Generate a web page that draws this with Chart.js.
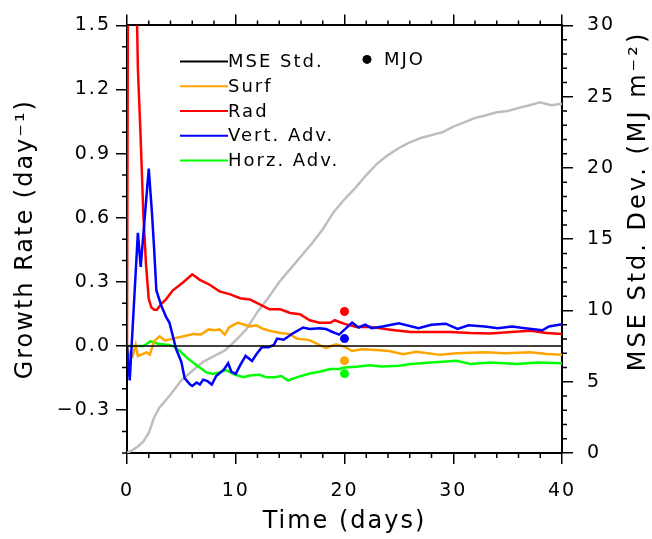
<!DOCTYPE html>
<html>
<head>
<meta charset="utf-8">
<title>MSE growth rate</title>
<script src="https://cdn.jsdelivr.net/npm/chart.js@4.4.1/dist/chart.umd.min.js"></script>
<style>
  html, body { margin: 0; padding: 0; background: #fff; }
  #wrap { width: 652px; height: 539px; }
</style>
</head>
<body>
<div id="wrap"><canvas id="myChart" width="652" height="539"></canvas></div>
<script>
// ---- data (days / values) ----
const stdDays = [0, 0.5, 1, 1.5, 2, 2.5, 3, 4, 5, 6, 7, 8, 9, 10, 11, 12, 13, 14, 15, 16, 17, 18, 19, 20,
    21, 22, 23, 24, 25, 26, 27, 28, 29, 30, 31, 32, 33, 34, 35, 36, 37, 38, 39, 40];
const stdVals = [0, 0.2, 0.46, 0.8, 1.4, 2.5, 3.2, 4.1, 5.1, 5.75, 6.4, 6.8, 7.2, 7.9, 8.7, 9.9, 10.9, 12.0, 12.9, 13.8,
    14.7, 15.7, 16.9, 17.8, 18.6, 19.5, 20.3, 20.9, 21.4, 21.8, 22.1, 22.3, 22.5, 22.9, 23.2, 23.5, 23.7, 23.9,
    24.0, 24.2, 24.4, 24.6, 24.4, 24.5];

const surfDays = [0, 0.25, 0.5, 0.8, 1.0, 1.3, 1.8, 2.1, 2.5, 3.0, 3.5, 4.2, 5.2, 6.1, 6.8, 7.5, 8.1, 8.5, 9.0, 9.4,
    10.2, 10.8, 11.3, 11.9, 12.5, 13.1, 14.1, 15.0, 15.6, 16.8, 17.7, 18.3, 19.2, 20.0, 20.7, 21.6, 22.9, 24.1,
    25.4, 26.6, 28.8, 30.3, 32.9, 34.7, 37.1, 38.6, 40];
const surfVals = [0, -0.046, -0.05, 0.005, -0.046, -0.04, -0.03, -0.04, 0.023, 0.046, 0.026, 0.035, 0.046, 0.057,
    0.054, 0.078, 0.074, 0.078, 0.054, 0.088, 0.11, 0.1, 0.092, 0.097, 0.081, 0.072, 0.061, 0.056, 0.035, 0.028,
    0.005, -0.008, 0.008, -0.003, -0.023, -0.015, -0.018, -0.023, -0.038, -0.026, -0.041, -0.033, -0.029, -0.033,
    -0.029, -0.037, -0.041];

const radDays = [0, 0.25, 0.5, 0.75, 1.0, 1.25, 1.5, 1.75, 2.0, 2.25, 2.5, 2.75, 3.2, 3.6, 4.2, 5.2, 6.0, 6.7, 7.6,
    8.5, 9.5, 10.4, 11.3, 12.2, 13.1, 14.1, 15.0, 15.9, 16.8, 17.7, 18.7, 19.1, 20.0, 21.1, 22.4, 23.3, 24.2, 26.1,
    27.9, 29.7, 31.6, 33.4, 35.3, 37.1, 38.6, 40];
const radVals = [0, 5, 3.5, 2.0, 1.3, 0.98, 0.62, 0.38, 0.22, 0.18, 0.17, 0.17, 0.2, 0.22, 0.26, 0.30, 0.336, 0.31,
    0.287, 0.256, 0.242, 0.224, 0.218, 0.195, 0.172, 0.172, 0.155, 0.149, 0.121, 0.109, 0.109, 0.121, 0.104, 0.089,
    0.089, 0.083, 0.077, 0.066, 0.066, 0.066, 0.061, 0.059, 0.066, 0.072, 0.061, 0.056];

const vertDays = [0, 0.25, 1.0, 1.26, 2.0, 2.3, 2.5, 2.7, 3.15, 3.6, 3.9, 4.2, 4.5, 5.0, 5.3, 5.8, 6.0, 6.4, 6.7,
    7.0, 7.4, 7.8, 8.2, 8.9, 9.3, 9.6, 10.0, 10.4, 10.9, 11.5, 11.9, 12.4, 13.0, 13.5, 13.8, 14.4, 15.3, 16.2, 16.8,
    17.7, 18.3, 18.9, 19.5, 20.0, 20.7, 21.3, 21.9, 22.5, 23.5, 25.0, 26.8, 28.0, 29.3, 30.4, 31.4, 32.9, 34.1,
    35.4, 36.6, 38.2, 38.8, 40];
const vertVals = [0, -0.16, 0.53, 0.37, 0.83, 0.62, 0.45, 0.26, 0.19, 0.135, 0.11, 0.05, -0.012, -0.074, -0.15,
    -0.18, -0.186, -0.17, -0.18, -0.157, -0.164, -0.18, -0.14, -0.11, -0.08, -0.12, -0.13, -0.09, -0.046, -0.069,
    -0.038, -0.005, -0.005, 0.005, 0.035, 0.03, 0.061, 0.087, 0.08, 0.084, 0.08, 0.066, 0.054, 0.077, 0.11, 0.087,
    0.1, 0.084, 0.092, 0.107, 0.084, 0.1, 0.105, 0.08, 0.097, 0.092, 0.084, 0.092, 0.084, 0.074, 0.092, 0.102];

const horzDays = [0, 1.5, 1.8, 2.15, 2.4, 3.0, 3.9, 4.4, 4.85, 5.5, 6.4, 7.3, 7.9, 8.5, 9.1, 9.9, 10.7, 11.3, 12.2,
    12.8, 13.6, 14.2, 14.8, 15.6, 16.8, 17.7, 18.7, 19.5, 20.0, 21.1, 22.3, 23.5, 25.0, 26.1, 28.0, 30.3, 31.6,
    33.4, 35.9, 37.7, 40];
const horzVals = [0, 0, 0.01, 0.023, 0.017, 0.01, 0.005, -0.003, -0.023, -0.054, -0.09, -0.123, -0.13, -0.123,
    -0.112, -0.133, -0.146, -0.138, -0.134, -0.146, -0.146, -0.14, -0.161, -0.146, -0.128, -0.12, -0.107, -0.107,
    -0.1, -0.097, -0.09, -0.095, -0.092, -0.084, -0.077, -0.069, -0.084, -0.077, -0.084, -0.077, -0.08];

// MJO values at day 20 (Rad, Vert, Surf, Horz)
const mjoDay = 20;
const mjoVals = [0.162, 0.035, -0.068, -0.129];
const mjoColors = ['#ff0000', '#0000ff', '#ffa500', '#00ff00'];

// ticks
const xTicks = [0, 10, 20, 30, 40];
const yTicks = [-0.3, 0, 0.3, 0.6, 0.9, 1.2, 1.5];
const y2Ticks = [0, 5, 10, 15, 20, 25, 30];

// legend
const legendLabels = ['MSE Std.', 'Surf', 'Rad', 'Vert. Adv.', 'Horz. Adv.'];
const legendColors = ['#000000', '#ffa500', '#ff0000', '#0000ff', '#00ff00'];

const FONT = 'DejaVu Sans';
const pts = (xs, ys) => xs.map((x, i) => ({ x: x, y: ys[i] }));
const fmtY = (v) => (v < 0 ? '\u2212' : '') + Math.abs(v).toFixed(1);

function lineSet(label, xs, ys, color, order, axis) {
    return {
        label: label,
        data: pts(xs, ys),
        borderColor: color,
        borderWidth: 2.5,
        pointRadius: 0,
        tension: 0,
        fill: false,
        order: order,
        yAxisID: axis || 'y'
    };
}

// wider letters like the NCAR font
const spacing = {
    id: 'spacing',
    beforeDraw(chart) {
        chart.ctx.letterSpacing = '2px';
    }
};

// minor ticks on all four sides
const minorTicks = {
    id: 'minorTicks',
    afterDraw(chart) {
        const ctx = chart.ctx;
        const { left, right, top, bottom } = chart.chartArea;
        const sx = chart.scales.x, sy = chart.scales.y, sy2 = chart.scales.y2;
        ctx.save();
        ctx.strokeStyle = '#000';
        ctx.lineWidth = 1.5;
        ctx.beginPath();
        for (let d = 2; d < 40; d += 2) {
            if (d % 10 == 0) continue;
            const px = sx.getPixelForValue(d);
            ctx.moveTo(px, bottom); ctx.lineTo(px, bottom + 5);
            ctx.moveTo(px, top); ctx.lineTo(px, top - 5);
        }
        for (let k = -5; k <= 15; k++) {
            if (k % 3 == 0) continue;
            const py = sy.getPixelForValue(k / 10);
            ctx.moveTo(left, py); ctx.lineTo(left - 5, py);
        }
        for (let k = 1; k < 30; k++) {
            if (k % 5 == 0) continue;
            const py = sy2.getPixelForValue(k);
            ctx.moveTo(right, py); ctx.lineTo(right + 5, py);
        }
        ctx.stroke();
        ctx.restore();
    }
};

// legend inside the plot + right axis title (reads bottom to top)
const extras = {
    id: 'extras',
    afterDraw(chart) {
        const ctx = chart.ctx;
        const { left, top, bottom } = chart.chartArea;
        ctx.save();
        ctx.font = '18px "' + FONT + '"';
        ctx.textBaseline = 'middle';
        ctx.textAlign = 'left';
        ctx.fillStyle = '#000';
        legendLabels.forEach((lab, i) => {
            const yy = top + 36 + i * 24.8;
            ctx.strokeStyle = legendColors[i];
            ctx.lineWidth = 2;
            ctx.beginPath();
            ctx.moveTo(left + 53, yy);
            ctx.lineTo(left + 101, yy);
            ctx.stroke();
            ctx.fillText(lab, left + 101, yy + 1);
        });
        // MJO marker
        ctx.beginPath();
        ctx.arc(left + 240, top + 34, 4.5, 0, Math.PI * 2);
        ctx.fill();
        ctx.fillText('MJO', left + 257, top + 35);

        ctx.font = '24px "' + FONT + '"';
        ctx.letterSpacing = '3px';
        ctx.textAlign = 'center';
        ctx.translate(639, 201);
        ctx.rotate(-Math.PI / 2);
        ctx.fillText('MSE Std. Dev. (MJ m\u207B\u00B2)', 0, 0);
        ctx.restore();
    }
};

const axisGrid = { drawOnChartArea: false, drawTicks: true, tickLength: 11, color: '#000', lineWidth: 1.5, tickWidth: 1.5 };
const axisBorder = { display: true, color: '#000', width: 2 };

const datasets = [
    {
        label: 'MJO',
        data: mjoVals.map((v) => ({ x: mjoDay, y: v })),
        showLine: false,
        pointRadius: 4.5,
        pointBackgroundColor: mjoColors,
        pointBorderColor: mjoColors,
        pointBorderWidth: 0,
        order: 0
    },
    lineSet('zero', [0, 40], [0, 0], '#000000', 1),
    lineSet('Surf', surfDays, surfVals, '#ffa500', 3),
    lineSet('Rad', radDays, radVals, '#ff0000', 4),
    lineSet('Vert. Adv.', vertDays, vertVals, '#0000ff', 2),
    lineSet('Horz. Adv.', horzDays, horzVals, '#00ff00', 5),
    lineSet('MSE Std.', stdDays, stdVals, '#bebebe', 6, 'y2')
];
datasets[1].borderWidth = 1.5;

const config = {
    type: 'line',
    data: { datasets: datasets },
    options: {
        responsive: false,
        animation: false,
        events: [],
        layout: { padding: 0 },
        plugins: { legend: { display: false }, tooltip: { enabled: false } },
        scales: {
            x: {
                type: 'linear', position: 'bottom', min: 0, max: 40,
                afterBuildTicks: (s) => { s.ticks = xTicks.map((v) => ({ value: v })); },
                afterFit: (s) => { s.height = 86; },
                ticks: { color: '#000', font: { family: FONT, size: 19 }, padding: 16, maxRotation: 0, autoSkip: false },
                grid: axisGrid,
                border: axisBorder,
                title: { display: true, text: 'Time (days)', color: '#000', font: { family: FONT, size: 24 }, padding: { top: 0, bottom: 3 } }
            },
            xTop: {
                type: 'linear', position: 'top', min: 0, max: 40,
                afterBuildTicks: (s) => { s.ticks = xTicks.map((v) => ({ value: v })); },
                afterFit: (s) => { s.height = 18; },
                ticks: { display: false },
                grid: axisGrid,
                border: axisBorder
            },
            y: {
                type: 'linear', position: 'left', min: -0.5, max: 1.5,
                afterBuildTicks: (s) => { s.ticks = yTicks.map((v) => ({ value: v })); },
                afterFit: (s) => { s.width = 127; },
                ticks: { color: '#000', font: { family: FONT, size: 19 }, padding: 5, callback: (v) => fmtY(v) },
                grid: axisGrid,
                border: axisBorder,
                title: { display: true, text: 'Growth Rate (day\u207B\u00B9)', color: '#000', font: { family: FONT, size: 24 }, padding: { top: 11, bottom: 0 } }
            },
            y2: {
                type: 'linear', position: 'right', min: 0, max: 30,
                afterBuildTicks: (s) => { s.ticks = y2Ticks.map((v) => ({ value: v })); },
                afterFit: (s) => { s.width = 90; },
                ticks: { color: '#000', font: { family: FONT, size: 19 }, padding: 14 },
                grid: axisGrid,
                border: axisBorder
            }
        }
    },
    plugins: [spacing, minorTicks, extras]
};

const myChart = new Chart(document.getElementById('myChart'), config);
</script>
</body>
</html>
